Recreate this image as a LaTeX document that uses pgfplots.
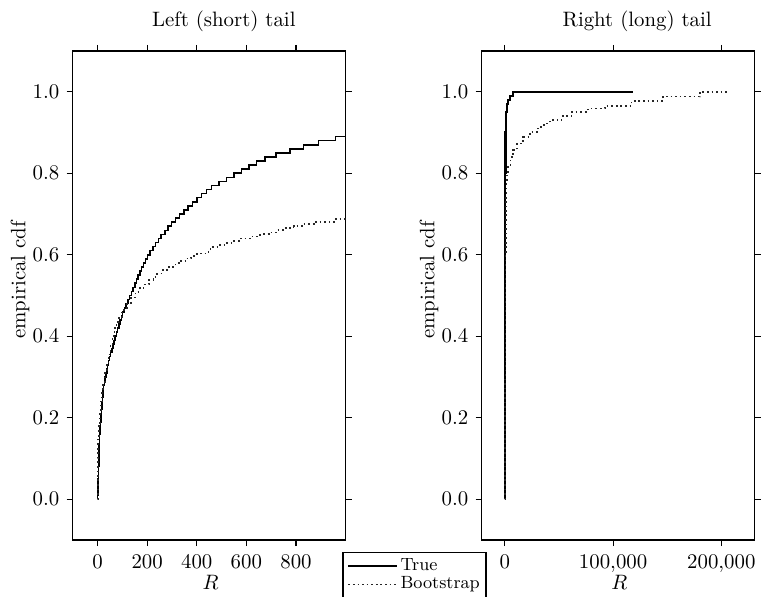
\documentclass[border=0pt]{standalone}
\usepackage{pgfplots}
\pgfplotsset{compat=1.18}
\begin{document}
\begin{tikzpicture}
\pgfplotsset{
  myax/.style={
    scale only axis, width=131pt, height=234.7pt,
    anchor=south west,
    ymin=-0.1, ymax=1.1,
    ytick={0,0.2,0.4,0.6,0.8,1.0},
    yticklabel style={/pgf/number format/.cd, fixed, fixed zerofill, precision=1},
    xticklabel style={yshift=-1pt},
    tick align=outside, major tick length=2.9pt,
    axis line style={line width=0.7pt},
    every tick/.style={black, line width=0.5pt},
    ylabel={empirical cdf},
    ylabel style={at={(axis description cs:-0.173,0.532)}, anchor=base, rotate=0},
    xlabel={$R$},
    xlabel style={at={(axis description cs:0.505,0)}, anchor=base, yshift=-24pt},
    truestyle/.style={black, line width=0.75pt, const plot},
    bootstyle/.style={black!85, line width=0.8pt, dash pattern=on 0.8pt off 1.4pt, const plot},
  }
}
\path[use as bounding box] (0,0) rectangle (367.7pt,286.1pt);
\begin{axis}[myax, at={(34.9pt,26.9pt)},
  xmin=-100, xmax=1000, xtick={0,200,400,600,800},
  title={Left (short) tail},
  title style={at={(axis description cs:0.554,1)}, anchor=base, yshift=5.7pt}]
\addplot[truestyle] coordinates {
(0,0) (0.6,0.01) (1.2,0.02) (1.8,0.03) (2.4,0.04) (3,0.05) (3.5,0.06) (4,0.07) (4.5,0.08) (5,0.09)
(5.5,0.10) (6,0.11) (6.5,0.12) (7,0.13) (7.5,0.14) (8,0.15) (8.5,0.16) (9,0.17) (10.3,0.18) (11.6,0.19)
(13,0.20) (14.3,0.21) (15.6,0.22) (17,0.23) (18.3,0.24) (19.6,0.25) (21,0.26) (22.5,0.27) (24.5,0.28) (27.5,0.29)
(31,0.30) (34.5,0.31) (37.5,0.32) (41,0.33) (45,0.34) (49,0.35) (53,0.36) (57.5,0.37) (62,0.38) (66,0.39)
(71,0.40) (76,0.41) (81,0.42) (86,0.43) (91,0.44) (96,0.45) (101.5,0.46) (108,0.47) (115,0.48) (122,0.49)
(129.5,0.50) (136.5,0.51) (143,0.52) (150,0.53) (157,0.54) (164,0.55) (171,0.56) (178,0.57) (185,0.58) (193,0.59)
(202,0.60) (212,0.61) (223,0.62) (234,0.63) (245,0.64) (257,0.65) (271,0.66) (285,0.67) (299,0.68) (314,0.69)
(331,0.70) (348,0.71) (365,0.72) (382,0.73) (400,0.74) (420,0.75) (440,0.76) (460,0.77) (490,0.78) (520,0.79)
(550,0.80) (580,0.81) (610,0.82) (640,0.83) (675,0.84) (720,0.85) (775,0.86) (830,0.87) (890,0.88) (960,0.89)
(1000,0.89)};
\addplot[bootstyle] coordinates {
(0,0) (1,0.05) (2,0.10) (3,0.15) (6,0.18) (10,0.21) (14,0.24) (18,0.265) (22,0.288) (30,0.31)
(37,0.33) (44,0.355) (52,0.38) (60,0.40) (68,0.42) (77,0.435) (86,0.448) (100,0.465) (119,0.48) (135,0.495)
(153,0.509) (170,0.518) (186,0.527) (207,0.538) (225,0.546) (240,0.554) (262,0.562) (287,0.570) (314,0.579) (335,0.585)
(354,0.591) (378,0.597) (401,0.603) (448,0.611) (455,0.619) (490,0.624) (522,0.629) (548,0.634) (576,0.640) (615,0.645)
(656,0.651) (690,0.655) (723,0.660) (755,0.665) (790,0.670) (830,0.675) (878,0.681) (960,0.688) (1000,0.688)};
\end{axis}
\begin{axis}[myax, at={(231.2pt,26.9pt)},
  xmin=-21500, xmax=230700, xtick={0,100000,200000},
  scaled x ticks=false,
  /pgf/number format/fixed,
  /pgf/number format/1000 sep=\mathord{,},
  title={Right (long) tail},
  title style={at={(axis description cs:0.570,1)}, anchor=base, yshift=5.7pt},
  legend style={at={(-0.510,-0.0239)}, anchor=north west,
    font=\fontsize{8.5}{10}\selectfont, draw=black, line width=0.6pt,
    cells={anchor=west}, inner xsep=2pt, inner ysep=1pt, row sep=-2.5pt,
    nodes={inner xsep=1pt}},
  legend image code/.code={\draw[#1, const plot=false] (0pt,0pt) -- (23.5pt,0pt);}]
\addplot[truestyle, line width=1.1pt] coordinates {
(0,0) (50,0.3) (150,0.6) (300,0.8) (500,0.9) (900,0.95) (1800,0.97) (3000,0.98) (4500,0.99) (7400,1.0) (118500,1.0)};
\addlegendentry{True}
\addplot[bootstyle] coordinates {
(0,0) (200,0.3) (500,0.6) (900,0.70) (1200,0.74) (1570,0.78) (2200,0.80) (3050,0.816) (5260,0.84) (7700,0.857) (11400,0.873) (16900,0.889)
(23100,0.902) (30800,0.914) (36000,0.922) (41500,0.930) (52300,0.940) (61600,0.951) (76900,0.959) (92300,0.965)
(117000,0.977) (146200,0.988) (180000,1.0) (206200,1.0)};
\addlegendentry{Bootstrap}
\end{axis}
\end{tikzpicture}
\end{document}
